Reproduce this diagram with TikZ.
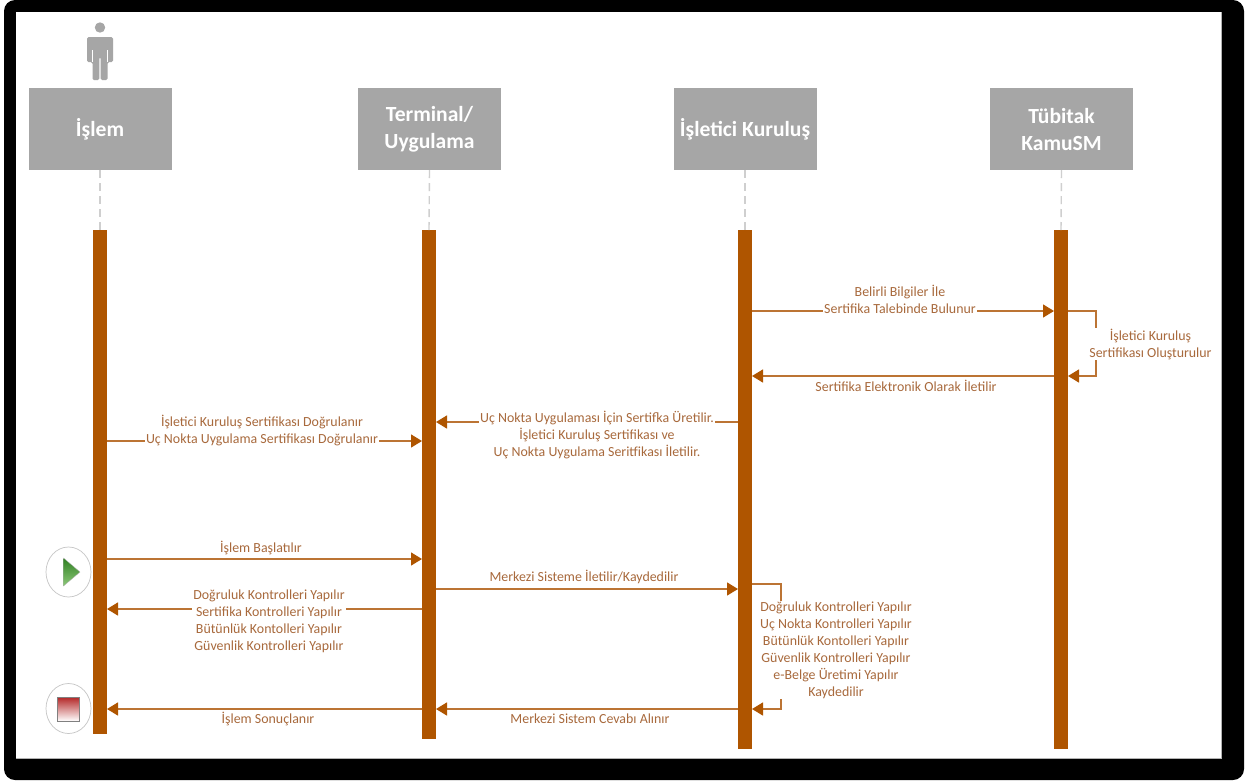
\documentclass[tikz,border=0pt]{standalone}
\usepackage{fontspec}
\setmainfont{Carlito}
\usetikzlibrary{arrows.meta,shadings}
\definecolor{barc}{HTML}{AF5500}
\definecolor{linec}{HTML}{BC7434}
\definecolor{txtc}{HTML}{A8693C}
\definecolor{headc}{HTML}{A6A6A6}
\definecolor{dashc}{HTML}{CFCFCF}
\definecolor{playtop}{HTML}{2F7F22}
\definecolor{playbot}{HTML}{8CC878}
\tikzset{
  head/.style={fill=headc,text=white,font=\fontsize{21.6}{27}\selectfont\bfseries,minimum width=143pt,minimum height=82pt,align=center,inner sep=0pt,outer sep=0pt},
  lifebar/.style={fill=barc,minimum width=14pt,inner sep=0pt,outer sep=0pt},
  msg/.style={draw=linec,line width=1.4pt,-{Triangle[length=11pt,width=13pt,color=barc]}},
  lab/.style={fill=white,text=txtc,font=\fontsize{13.9}{17}\selectfont,align=center,inner sep=1pt,outer sep=0pt},
  lifeline/.style={draw=dashc,line width=1.4pt,dash pattern=on 8pt off 5pt}
}
\begin{document}
\begin{tikzpicture}[x=1pt,y=-1pt]
\useasboundingbox (0,0) rectangle (1256,780);
\fill[white] (0,0) rectangle (1256,780);
\fill[black,rounded corners=11pt] (4,0) rectangle (1244,780);
\fill[white] (16,12) rectangle (1221,758);
\draw[gray!60,line width=0.6pt] (1221,12) -- (1221,758) -- (16,758);
% headers
\node[head] (h1) at (100,129) {İşlem};
\node[head] (h2) at (429.5,129) {Terminal/\\Uygulama};
\node[head] (h3) at (745,129) {İşletici Kuruluş};
\node[head] (h4) at (1061.5,129) {Tübitak\\KamuSM};
% bars
\node[lifebar,minimum height=504pt] (b1) at (100,482) {};
\node[lifebar,minimum height=509pt] (b2) at (429,484.5) {};
\node[lifebar,minimum height=519pt] (b3) at (745,489.5) {};
\node[lifebar,minimum height=519pt] (b4) at (1061,489.5) {};
\draw[lifeline] (h1) -- (b1);
\draw[lifeline] (h2.south) -- (b2.north);
\draw[lifeline] (h3) -- (b3);
\draw[lifeline] (h4.south) -- (b4.north);
% person
\fill[headc] (100,27.5) circle (5.2pt);
\fill[headc,rounded corners=1.5pt] (87,62) -- (87,37) -- (113,37) -- (113,62) -- (107.5,62) -- (107.5,80) -- (100.6,80) -- (100.6,57) -- (99.4,57) -- (99.4,80) -- (92.5,80) -- (92.5,62) -- cycle;
\draw[white,line width=0.6pt] (92.5,50) -- (92.5,62) (107.5,50) -- (107.5,62);
% start / stop
\draw[gray!45,line width=0.7pt] (68.5,572) ellipse [x radius=22.5,y radius=25];
\shade[top color=playtop,bottom color=playbot,draw=gray!60,line width=0.3pt] (63.5,558) -- (80,572) -- (63.5,586) -- cycle;
\draw[gray!45,line width=0.7pt] (68.5,708.5) ellipse [x radius=22.5,y radius=25];
\shade[top color=red!65!black!85!white,bottom color=white,draw=gray,line width=0.8pt] (57.5,697) rectangle (79.5,721);
% loop corners
\coordinate (l1a) at (1096,311);
\coordinate (l1b) at (1096,376);
\coordinate (l2a) at (781,584);
\coordinate (l2b) at (781,709);
% messages
\draw[msg] (b3.east |- 0,311) -- (b4.west |- 0,311);
\draw[msg] (b4.east |- 0,311) -- (l1a) -- (l1b) -- (b4.east |- 0,376);
\draw[msg] (b4.west |- 0,376) -- (b3.east |- 0,376);
\draw[msg] (b3.west |- 0,422) -- (b2.east |- 0,422);
\draw[msg] (b1.east |- 0,441) -- (b2.west |- 0,441);
\draw[msg] (b1.east |- 0,559) -- (b2.west |- 0,559);
\draw[msg] (b2.east |- 0,589) -- (b3.west |- 0,589);
\draw[msg] (b2.west |- 0,609) -- (b1.east |- 0,609);
\draw[msg] (b3.east |- 0,584) -- (l2a) -- (l2b) -- (b3.east |- 0,709);
\draw[msg] (b3.west |- 0,709) -- (b2.east |- 0,709);
\draw[msg] (b2.west |- 0,709) -- (b1.east |- 0,709);
% labels
\node[lab] (t1) at (900,299.5) {Belirli Bilgiler İle\\Sertifika Talebinde Bulunur};
\node[lab] (t2) at (1150.5,344) {İşletici Kuruluş\\Sertifikası Oluşturulur};
\node[lab] (t3) at (906,386) {Sertifika Elektronik Olarak İletilir};
\node[lab] (t4) at (597,435) {Uç Nokta Uygulaması İçin Sertifka Üretilir.\\İşletici Kuruluş Sertifikası ve\\Uç Nokta Uygulama Seritfikası İletilir.};
\node[lab] (t5) at (262,431) {İşletici Kuruluş Sertifikası Doğrulanır\\Uç Nokta Uygulama Sertifikası Doğrulanır};
\node[lab] (t6) at (261,548) {İşlem Başlatılır};
\node[lab] (t7) at (584,577) {Merkezi Sisteme İletilir/Kaydedilir};
\node[lab] (t8) at (269,621) {Doğruluk Kontrolleri Yapılır\\Sertifika Kontrolleri Yapılır\\Bütünlük Kontolleri Yapılır\\Güvenlik Kontrolleri Yapılır};
\node[lab] (t9) at (836,650) {Doğruluk Kontrolleri Yapılır\\Uç Nokta Kontrolleri Yapılır\\Bütünlük Kontolleri Yapılır\\Güvenlik Kontrolleri Yapılır\\e-Belge Üretimi Yapılır\\Kaydedilir};
\node[lab] (t10) at (590,719) {Merkezi Sistem Cevabı Alınır};
\node[lab] (t11) at (268,719) {İşlem Sonuçlanır};
\end{tikzpicture}
\end{document}
